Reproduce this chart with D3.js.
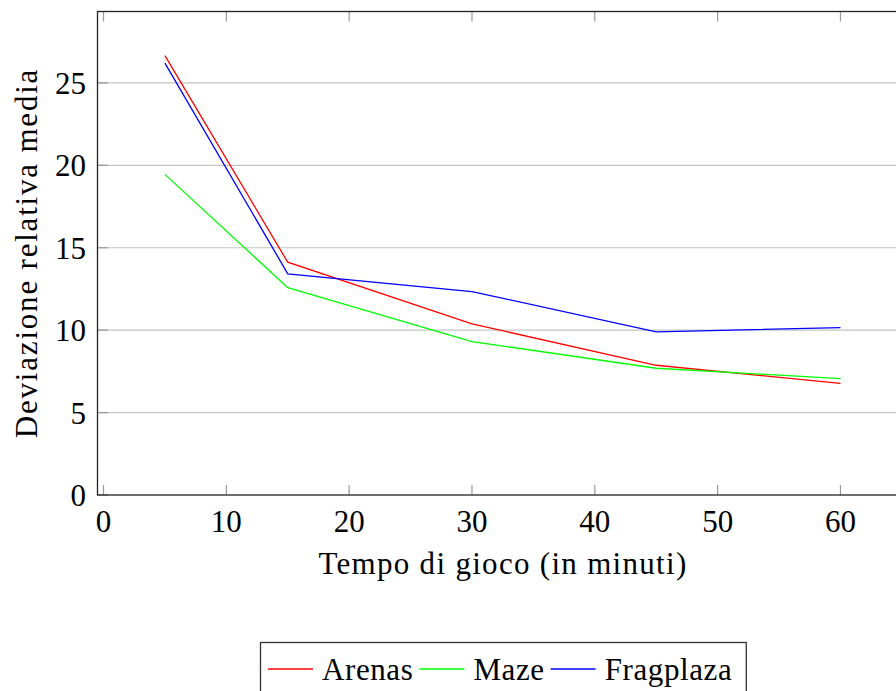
<!DOCTYPE html>
<html lang="it">
<head>
<meta charset="utf-8">
<title>Deviazione relativa media</title>
<script src="https://cdn.jsdelivr.net/npm/d3@7"></script>
<style>
  body { margin: 0; background: #fff; }
</style>
</head>
<body>
<script>
// data
var minutes = [5, 15, 30, 45, 60];
var arenas = [26.65, 14.12, 10.38, 7.87, 6.77];
var maze = [19.45, 12.58, 9.31, 7.69, 7.06];
var fragplaza = [26.2, 13.42, 12.34, 9.9, 10.15];
var seriesNames = ["Arenas", "Maze", "Fragplaza"];
var seriesColors = ["#ff0000", "#00ff00", "#0000ff"];
var xTicks = [0, 10, 20, 30, 40, 50, 60];
var yTicks = [0, 5, 10, 15, 20, 25];

var w = 896, h = 691;
var fs = 31;
var serif = "'Liberation Serif'";

var svg = d3.select("body").append("svg")
  .attr("width", w).attr("height", h);

var x = d3.scaleLinear().domain([-0.49, 65.5]).range([97.5, 908]);
var y = d3.scaleLinear().domain([0, 29.33]).range([495, 11.5]);

// horizontal grid
svg.append("g").selectAll("line")
  .data(yTicks.filter(function(d) { return d > 0; }))
  .enter().append("line")
  .attr("x1", x.range()[0]).attr("x2", x.range()[1])
  .attr("y1", function(d) { return y(d); })
  .attr("y2", function(d) { return y(d); })
  .attr("stroke", "#c4c4c4").attr("stroke-width", 1.2);

// inward ticks
var tickG = svg.append("g").attr("stroke", "#999").attr("stroke-width", 1.2);
xTicks.forEach(function(t) {
  tickG.append("line").attr("x1", x(t)).attr("x2", x(t)).attr("y1", 495).attr("y2", 485);
  tickG.append("line").attr("x1", x(t)).attr("x2", x(t)).attr("y1", 11.5).attr("y2", 21.5);
});
yTicks.forEach(function(t) {
  tickG.append("line").attr("x1", 97.5).attr("x2", 108).attr("y1", y(t)).attr("y2", y(t));
});

// series lines
var seriesData = [arenas, maze, fragplaza];
var line = d3.line()
  .x(function(d, i) { return x(minutes[i]); })
  .y(function(d) { return y(d); });

svg.append("g").selectAll("path")
  .data(seriesData)
  .enter().append("path")
  .attr("d", line)
  .attr("fill", "none")
  .attr("stroke", function(d, i) { return seriesColors[i]; })
  .attr("stroke-width", 1.3);

// frame
svg.append("rect")
  .attr("x", 97.5).attr("y", 11.5)
  .attr("width", x.range()[1] - 97.5).attr("height", 495 - 11.5)
  .attr("fill", "none").attr("stroke", "#222").attr("stroke-width", 1.3);

// tick labels
svg.append("g").selectAll("text")
  .data(xTicks).enter().append("text")
  .attr("x", function(d) { return x(d); })
  .attr("y", 532)
  .attr("text-anchor", "middle")
  .attr("font-size", fs)
  .style("font-family", serif)
  .text(function(d) { return d; });

svg.append("g").selectAll("text")
  .data(yTicks).enter().append("text")
  .attr("x", 86)
  .attr("y", function(d) { return y(d) + 11; })
  .attr("text-anchor", "end")
  .attr("font-size", fs)
  .style("font-family", serif)
  .text(function(d) { return d; });

// axis labels
svg.append("text")
  .attr("x", 503).attr("y", 574)
  .attr("text-anchor", "middle")
  .attr("font-size", fs)
  .attr("letter-spacing", 1.3)
  .style("font-family", serif)
  .text("Tempo di gioco (in minuti)");

svg.append("text")
  .attr("transform", "translate(37,253) rotate(-90)")
  .attr("text-anchor", "middle")
  .attr("font-size", fs)
  .attr("letter-spacing", 1.8)
  .style("font-family", serif)
  .text("Deviazione relativa media");

// legend
var legend = svg.append("g");
var lx = 268, ly = 669;
seriesNames.forEach(function(name, i) {
  legend.append("line")
    .attr("x1", lx).attr("x2", lx + 45)
    .attr("y1", ly).attr("y2", ly)
    .attr("stroke", seriesColors[i]).attr("stroke-width", 1.3);
  var t = legend.append("text")
    .attr("x", lx + 54).attr("y", ly + 11)
    .attr("font-size", fs)
    .attr("letter-spacing", 0.6)
    .style("font-family", serif)
    .text(name);
  lx = lx + 54 + t.node().getComputedTextLength() + 6;
});
legend.insert("rect", ":first-child")
  .attr("x", 260.5).attr("y", 642.5)
  .attr("width", lx + 8 - 260.5).attr("height", 60)
  .attr("fill", "#fff").attr("stroke", "#333").attr("stroke-width", 1.3);
</script>
</body>
</html>
